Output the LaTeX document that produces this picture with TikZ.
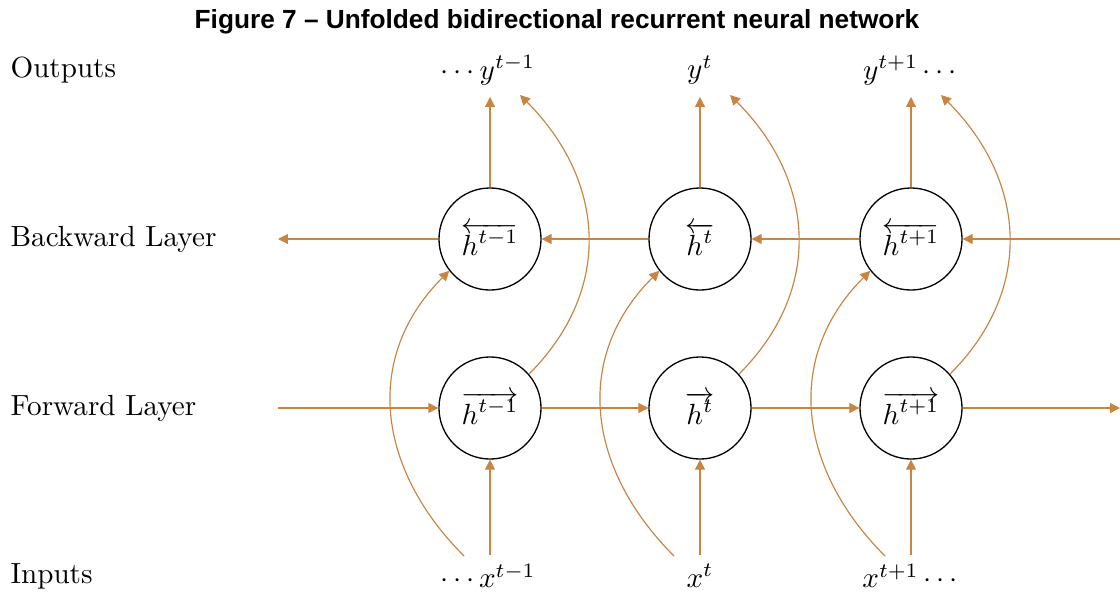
\documentclass[tikz,border=0pt]{standalone}
\usepackage{fontspec}
\usetikzlibrary{arrows.meta}
\newfontfamily\titlefont{Liberation Sans}
\definecolor{linkc}{RGB}{200,132,64}

\begin{document}
\begin{tikzpicture}[x=0.343pt,y=0.343pt,
  link/.style={draw=linkc, line width=0.4pt, -{Triangle[length=3.4pt,width=3.4pt]}},
  cell/.style={circle, draw=black, line width=0.45pt, minimum size=35pt, inner sep=0pt},
  rowlabel/.style={anchor=west, inner sep=0pt},
  io/.style={inner sep=0pt},
  heading/.style={inner sep=0pt, font=\titlefont\bfseries\fontsize{9}{11}\selectfont}]
\useasboundingbox (0,0) rectangle (1120,-592);

% heading
\node[heading] (title) at (557,-22) {Figure 7 – Unfolded bidirectional recurrent neural network};

% row labels
\node[rowlabel] (lout)  at (10,-70)  {Outputs};
\node[rowlabel] (lback) at (10,-239) {Backward Layer};
\node[rowlabel] (lfwd)  at (10,-408) {Forward Layer};
\node[rowlabel] (lin)   at (10,-576) {Inputs};

% outputs and inputs
\node[io] (y1) at (488,-70) {$\cdots y^{t-1}$};
\node[io] (y2) at (700,-70) {$y^{t}$};
\node[io] (y3) at (910,-70) {$y^{t+1}\cdots$};
\node[io] (x1) at (488,-576) {$\cdots x^{t-1}$};
\node[io] (x2) at (700,-576) {$x^{t}$};
\node[io] (x3) at (910,-576) {$x^{t+1}\cdots$};

% hidden states
\node[cell] (b1) at (490,-239) {$\overleftarrow{h^{t-1}}$};
\node[cell] (b2) at (700,-239) {$\overleftarrow{h^{t}}$};
\node[cell] (b3) at (911,-239) {$\overleftarrow{h^{t+1}}$};
\node[cell] (f1) at (490,-408) {$\overrightarrow{h^{t-1}}$};
\node[cell] (f2) at (700,-408) {$\overrightarrow{h^{t}}$};
\node[cell] (f3) at (911,-408) {$\overrightarrow{h^{t+1}}$};

% loose ends of the recurrent chains
\coordinate (bin)  at (1120,-239);
\coordinate (bout) at (278,-239);
\coordinate (fin)  at (278,-408);
\coordinate (fout) at (1120,-408);

% connector ends near the output and input labels
\foreach \i/\c in {1/490,2/700,3/911}{
  \coordinate (o\i)  at (\c,-97);
  \coordinate (oc\i) at (\c+30,-95);
  \coordinate (i\i)  at (\c,-555);
  \coordinate (ic\i) at (\c-26,-556);
}

% recurrent connections
\draw[link] (fin) -- (f1);
\draw[link] (f1) -- (f2);
\draw[link] (f2) -- (f3);
\draw[link] (f3) -- (fout);
\draw[link] (bin) -- (b3);
\draw[link] (b3) -- (b2);
\draw[link] (b2) -- (b1);
\draw[link] (b1) -- (bout);

% input and output connections
\foreach \i in {1,2,3}{
  \draw[link] (i\i) -- (f\i);
  \draw[link] (b\i) -- (o\i);
  \draw[link] (f\i.41) to[out=45,in=-45,looseness=1.1] (oc\i);
  \draw[link] (ic\i) to[out=135,in=-135,looseness=1.1] (b\i.218);
}
\end{tikzpicture}
\end{document}
